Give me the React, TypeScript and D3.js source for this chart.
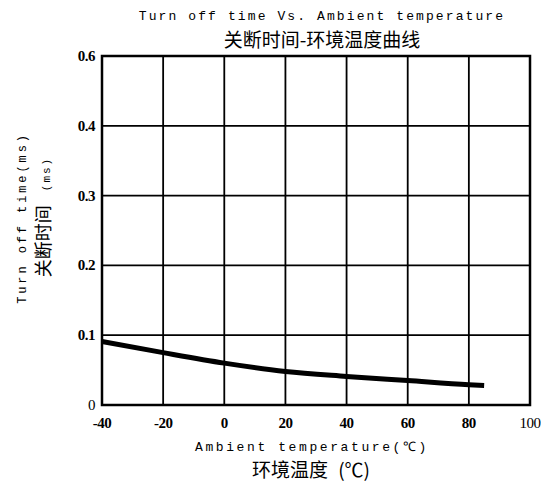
import * as d3 from "d3";

// curve
const temps = [-40, -20, 0, 20, 40, 60, 80, 85];
const offTimes = [0.091, 0.075, 0.06, 0.048, 0.041, 0.035, 0.029, 0.028];

const xTicks = [-40, -20, 0, 20, 40, 60, 80, 100];
const yTicks = [0, 0.1, 0.2, 0.3, 0.4, 0.5];
const yTickLabels = ["0", "0.1", "0.2", "0.3", "0.4", "0.6"];

const titleEn = "Turn off time Vs. Ambient temperature";
const titleZh = "关断时间-环境温度曲线";
const xTitleEn = "Ambient temperature(℃)";
const xTitleZh = "环境温度 (℃)";
const yTitleEn = "Turn off time(ms)";
const yTitleZh = "关断时间";
const yTitleUnit = "(ms)";

const width = 541;
const height = 488;
const left = 102;
const right = 530;
const top = 56;
const bottom = 405;

const mono = "Liberation Mono, DejaVu Sans Mono, monospace";
const cjk = "Noto Sans CJK SC, sans-serif";
const serif = "Liberation Serif, DejaVu Serif, serif";

export default function App() {
  const x = d3.scaleLinear().domain([-40, 100]).range([left, right]);
  const y = d3.scaleLinear().domain([0, 0.5]).range([bottom, top]);

  const line = d3
    .line<number>()
    .x((_, i) => x(temps[i]))
    .y((d) => y(d))
    .curve(d3.curveMonotoneX);

  return (
    <svg
      width={width}
      height={height}
      style={{ position: "absolute", left: 0, top: 0, background: "#fff" }}
    >
      <text x={322} y={20} textAnchor="middle" fontFamily={mono} fontSize={13} letterSpacing={2.1}>
        {titleEn}
      </text>
      <text x={322} y={47} textAnchor="middle" fontFamily={cjk} fontSize={19}>
        {titleZh}
      </text>

      {/* grid */}
      {xTicks.slice(1, -1).map((t) => (
        <line key={"gx" + t} x1={x(t)} x2={x(t)} y1={top} y2={bottom} stroke="#000" strokeWidth={1.8} />
      ))}
      {yTicks.slice(1, -1).map((t) => (
        <line key={"gy" + t} x1={left} x2={right} y1={y(t)} y2={y(t)} stroke="#000" strokeWidth={1.8} />
      ))}
      <rect x={left} y={top} width={right - left} height={bottom - top} fill="none" stroke="#000" strokeWidth={2.5} />

      {/* curve */}
      <path d={line(offTimes) ?? ""} fill="none" stroke="#000" strokeWidth={5} strokeLinecap="butt" />

      {/* y ticks */}
      {yTicks.map((t, i) => (
        <text
          key={"yt" + t}
          x={left - 7}
          y={y(t) + 5}
          textAnchor="end"
          fontFamily={serif}
          fontSize={15}
          letterSpacing={-0.5}
          fontWeight={i === 0 ? "normal" : "bold"}
        >
          {yTickLabels[i]}
        </text>
      ))}

      {/* x ticks */}
      {xTicks.map((t) => (
        <text
          key={"xt" + t}
          x={x(t)}
          y={bottom + 23}
          textAnchor="middle"
          fontFamily={serif}
          fontSize={15}
          letterSpacing={-0.5}
          fontWeight={t === 100 ? "normal" : "bold"}
        >
          {t}
        </text>
      ))}

      <text x={312} y={451} textAnchor="middle" fontFamily={mono} fontSize={13} letterSpacing={2.6}>
        {xTitleEn}
      </text>
      <text x={311} y={477} textAnchor="middle" fontFamily={cjk} fontSize={19} wordSpacing={6}>
        {xTitleZh}
      </text>

      <text
        transform="translate(26,218) rotate(-90)"
        textAnchor="middle"
        fontFamily={mono}
        fontSize={12}
        letterSpacing={2.9}
      >
        {yTitleEn}
      </text>
      <text transform="translate(50,217) rotate(-90)" textAnchor="middle" fontFamily={cjk} fontSize={18}>
        {yTitleZh}
        <tspan fontFamily={mono} fontSize={11} dx={14} letterSpacing={2}>
          {yTitleUnit}
        </tspan>
      </text>
    </svg>
  );
}
